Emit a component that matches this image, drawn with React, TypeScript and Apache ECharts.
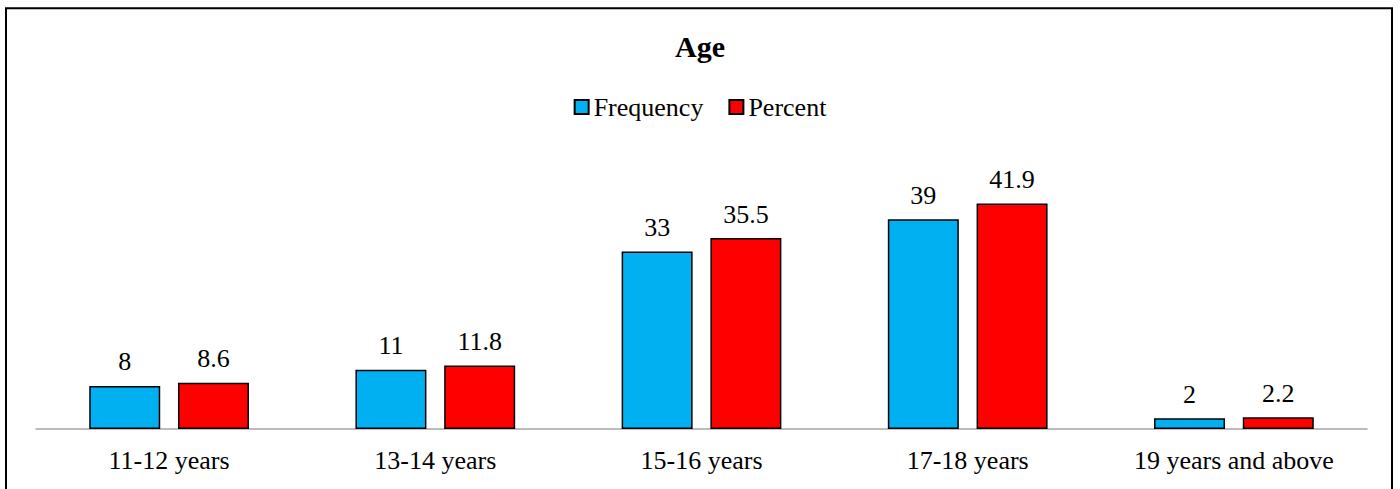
import React, { useEffect, useRef } from "react";
import * as echarts from "echarts";

const categories = ["11-12 years", "13-14 years", "15-16 years", "17-18 years", "19 years and above"];
const frequency = [8, 11, 33, 39, 2];
const percent = [8.6, 11.8, 35.5, 41.9, 2.2];
const seriesNames = ["Frequency", "Percent"];
const titleText = "Age";

const FONT = "Liberation Serif";

export default function App() {
  const ref = useRef<HTMLDivElement>(null);
  useEffect(() => {
    if (!ref.current) return;
    const chart = echarts.init(ref.current, null, { renderer: "svg" });
    const labelStyle = {
      show: true,
      position: "top",
      distance: 11,
      color: "#000",
      fontFamily: FONT,
      fontSize: 26,
    };
    chart.setOption({
      animation: false,
      backgroundColor: "#fff",
      textStyle: { fontFamily: FONT },
      title: {
        text: titleText,
        left: "center",
        top: 26,
        textStyle: { fontFamily: FONT, fontSize: 30, fontWeight: "bold", color: "#000" },
      },
      legend: {
        top: 89,
        left: "center",
        itemWidth: 14,
        itemHeight: 14,
        itemGap: 25,
        icon: "rect",
        textStyle: { fontFamily: FONT, fontSize: 26, color: "#000" },
        data: seriesNames,
      },
      grid: { left: 36, right: 33, top: 160, bottom: 60, containLabel: false },
      xAxis: {
        type: "category",
        data: categories,
        axisLine: { show: true, lineStyle: { color: "#A6A6A6", width: 1.5 } },
        axisTick: { show: false },
        axisLabel: { fontFamily: FONT, fontSize: 26, color: "#000", margin: 18, interval: 0 },
      },
      yAxis: { type: "value", min: 0, max: 50, show: false },
      series: [
        {
          name: seriesNames[0],
          type: "bar",
          data: frequency,
          barWidth: 71,
          barGap: "25%",
          itemStyle: { color: "#00B0F0", borderColor: "#000", borderWidth: 1.5 },
          label: labelStyle,
        },
        {
          name: seriesNames[1],
          type: "bar",
          data: percent,
          barWidth: 71,
          barGap: "25%",
          itemStyle: { color: "#FF0000", borderColor: "#000", borderWidth: 1.5 },
          label: labelStyle,
        },
      ],
      graphic: [
        {
          type: "rect",
          shape: { x: 6, y: 8.3, width: 1386, height: 600 },
          style: { fill: "none", stroke: "#000", lineWidth: 2 },
          silent: true,
          z: 100,
        },
      ],
    });
    return () => chart.dispose();
  }, []);
  return (
    <div
      ref={ref}
      style={{ position: "absolute", left: 0, top: 0, width: 1400, height: 489 }}
    />
  );
}
